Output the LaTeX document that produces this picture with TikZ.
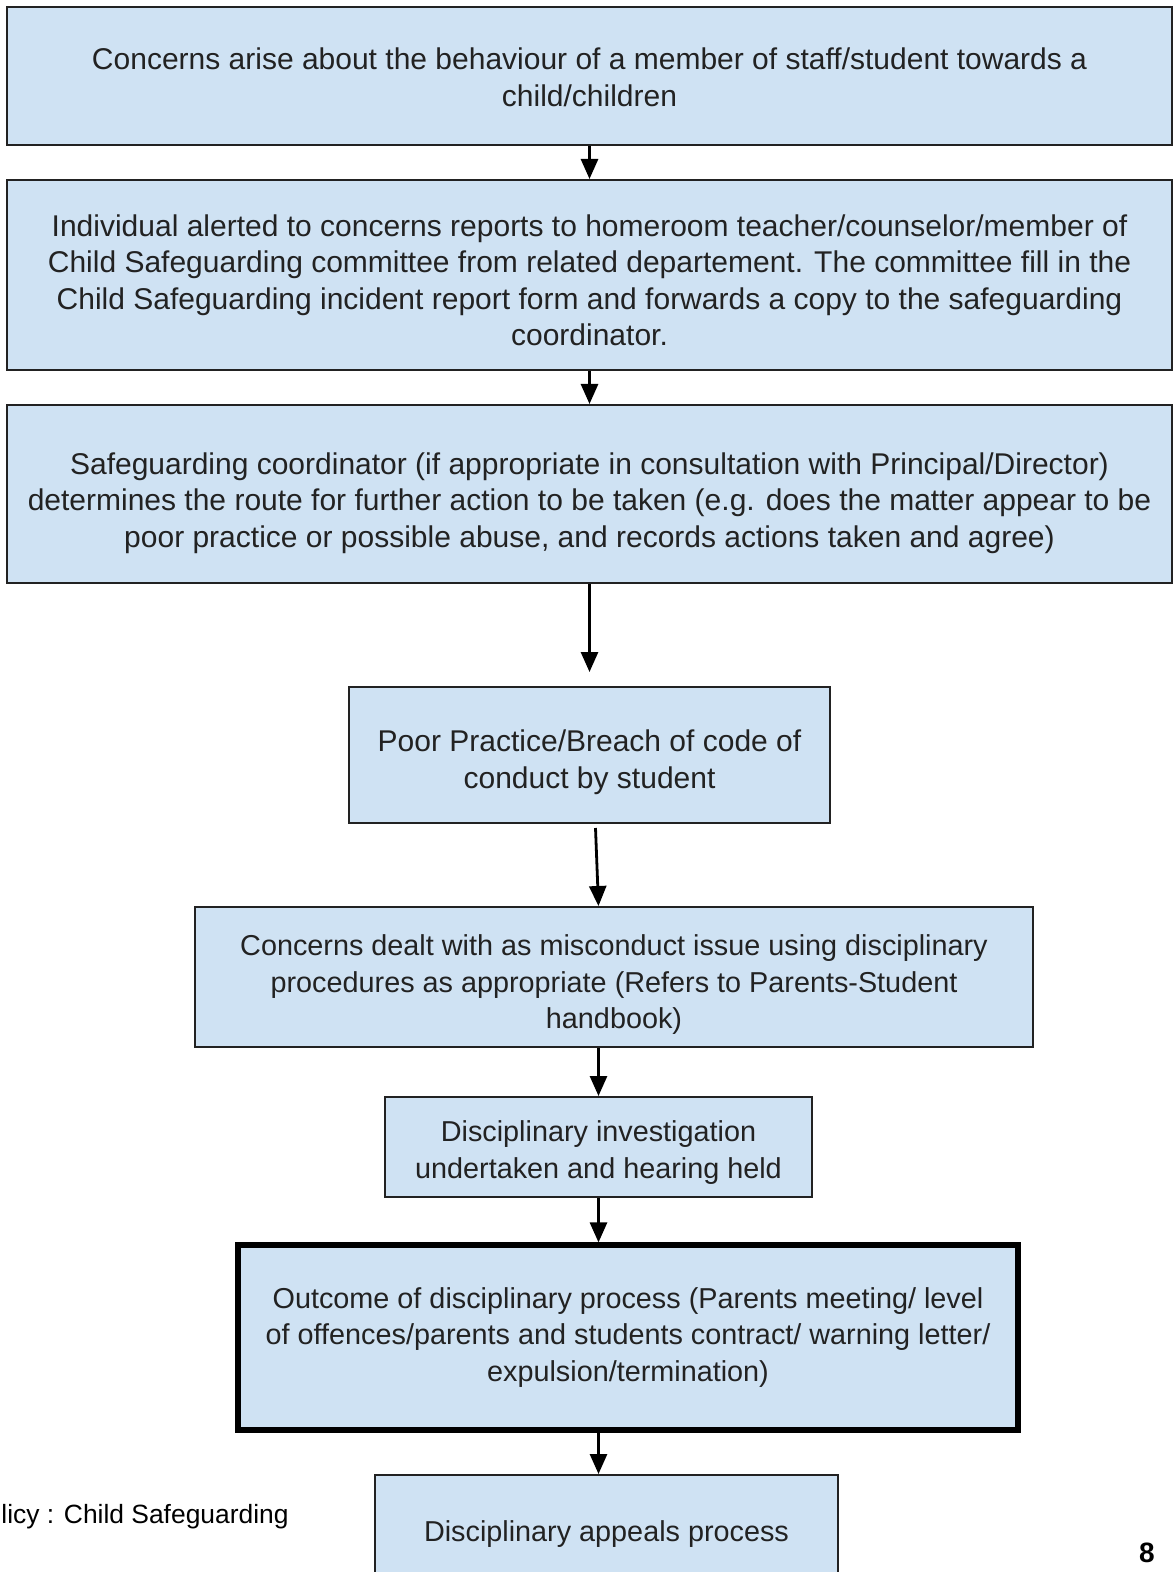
\documentclass[tikz,border=0pt]{standalone}
\usepackage{fontspec}
\setmainfont{Liberation Sans}
\usepackage{xcolor}
\usepackage{tikz}
\usetikzlibrary{arrows.meta, positioning, calc}
\definecolor{boxblue}{HTML}{CFE2F3}
\definecolor{inkgray}{HTML}{222222}
% extra room above the first line, pushes the text block down
\newcommand{\toppad}[1]{\rule{0pt}{#1}}

\begin{document}
\begin{tikzpicture}[
    x=0.5pt, y=-0.5pt,
    box/.style={draw=inkgray, line width=1pt, fill=boxblue, align=center, inner sep=0pt,
                text=inkgray, font=\fontsize{15}{18.2}\selectfont},
    lower/.style={font=\fontsize{14.4}{18.2}\selectfont},
    arr/.style={-{Triangle[length=10pt, width=8.5pt]}, line width=1.4pt, black},
]
    \clip (0,0) rectangle (1174,1572);
    \fill[white] (0,0) rectangle (1174,1572);

    % Top row of wide boxes
    \node[box, minimum width=1165*0.5pt, minimum height=138*0.5pt] (concern) at (589.5, 76)
        {\toppad{12pt}Concerns arise about the behaviour of a member of staff/student towards a\\child/children};
    \node[box, minimum width=1165*0.5pt, minimum height=190*0.5pt] (report) at (589.5, 275)
        {\toppad{16pt}Individual alerted to concerns reports to homeroom teacher/counselor/member of\\
         Child Safeguarding committee from related departement. The committee fill in the\\
         Child Safeguarding incident report form and forwards a copy to the safeguarding\\
         coordinator.};
    \node[box, minimum width=1165*0.5pt, minimum height=178*0.5pt] (route) at (589.5, 494)
        {\toppad{20pt}Safeguarding coordinator (if appropriate in consultation with Principal/Director)\\
         determines the route for further action to be taken (e.g. does the matter appear to be\\
         poor practice or possible abuse, and records actions taken and agree)};

    % Student branch
    \node[box, minimum width=481*0.5pt, minimum height=136*0.5pt] (breach) at (589.5, 755)
        {\toppad{18pt}Poor Practice/Breach of code of\\conduct by student};
    \node[box, lower, minimum width=838*0.5pt, minimum height=140*0.5pt] (misconduct) at (614, 977)
        {\toppad{18pt}Concerns dealt with as misconduct issue using disciplinary\\
         procedures as appropriate (Refers to Parents-Student\\handbook)};
    \node[box, lower, minimum width=427*0.5pt, minimum height=100*0.5pt] (hearing) at (598.5, 1147)
        {\toppad{16pt}Disciplinary investigation\\undertaken and hearing held};
    \node[box, lower, line width=2.6pt, draw=black, minimum width=780*0.5pt, minimum height=185*0.5pt] (outcome) at (628, 1337.5)
        {Outcome of disciplinary process (Parents meeting/ level\\
         of offences/parents and students contract/ warning letter/\\
         expulsion/termination)};
    \node[box, lower, minimum width=463*0.5pt, minimum height=130*0.5pt] (appeal) at (606.5, 1540)
        {\raisebox{9pt}{Disciplinary appeals process}};

    % Page footer
    \node[anchor=base west, inner sep=0pt, font=\fontsize{13.2}{15}\selectfont] (footer) at (1, 1523)
        {licy : Child Safeguarding};
    \node[anchor=base, inner sep=0pt, font=\fontsize{14}{15}\selectfont\bfseries] (pageno) at (1147, 1562) {8};

    % Arrows
    \draw[arr] (concern) -- (report);
    \draw[arr] (report) -- (route);
    \draw[arr, shorten >=7pt] (route.south) -- (breach.north);
    \draw[arr] ($(breach.south)+(6,4)$) -- (misconduct.north -| hearing);
    \draw[arr] (misconduct.south -| hearing) -- (hearing.north);
    \draw[arr] (hearing) -- (outcome.north -| hearing);
    \draw[arr] (outcome.south -| hearing) -- (appeal.north -| hearing);
\end{tikzpicture}
\end{document}
